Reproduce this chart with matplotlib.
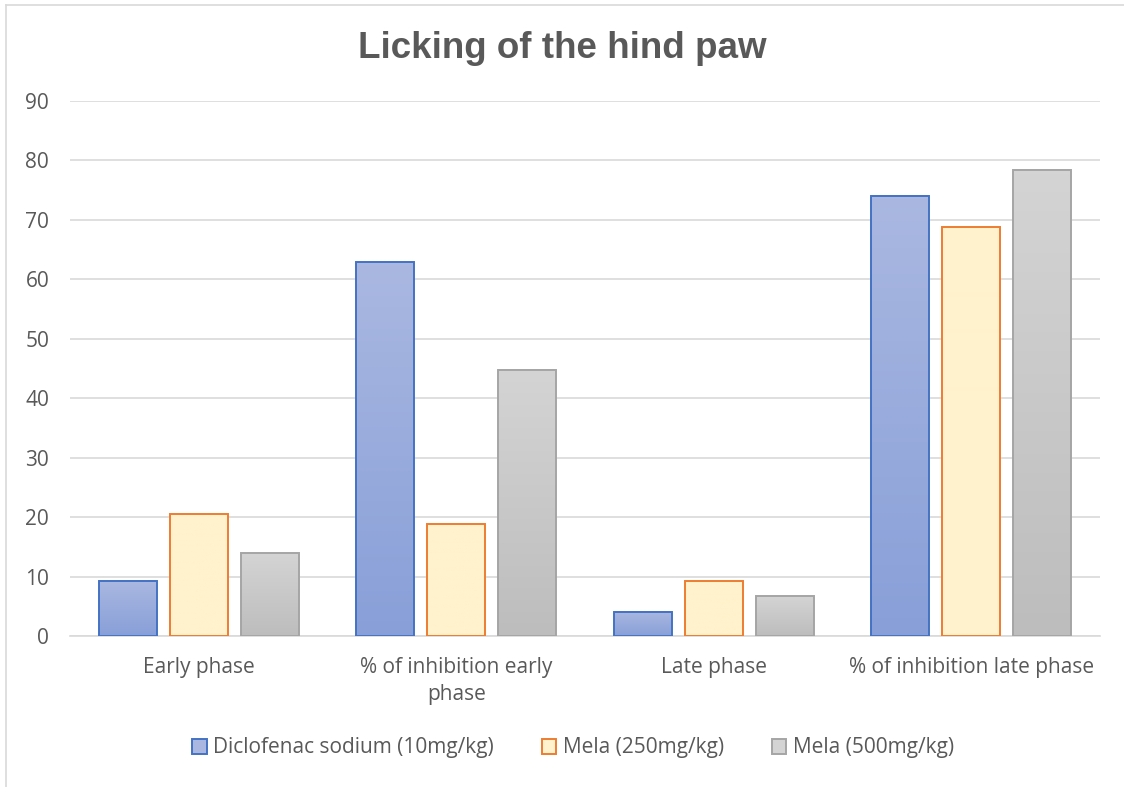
import matplotlib
matplotlib.use('Agg')
import matplotlib.pyplot as plt
from matplotlib.patches import Patch
from matplotlib.lines import Line2D
import numpy as np

categories = ['Early phase', '% of inhibition early\nphase', 'Late phase', '% of inhibition late phase']
series_names = ['Diclofenac sodium (10mg/kg)', 'Mela (250mg/kg)', 'Mela (500mg/kg)']
diclofenac = [9.3, 62.9, 4.1, 74.1]
mela_250 = [20.5, 18.8, 9.3, 68.8]
mela_500 = [13.9, 44.8, 6.7, 78.4]

# gradient top, gradient bottom, edge
styles = [
    ('#aab8e1', '#889fd8', '#4472c4'),
    ('#fff2cc', '#fff2cc', '#ed7d31'),
    ('#d4d4d4', '#bdbdbd', '#a5a5a5'),
]

plt.rcParams['font.family'] = ['Open Sans', 'DejaVu Sans']
text_color = '#595959'

fig = plt.figure(figsize=(11.24, 7.87), dpi=100)
ax = fig.add_axes([70 / 1124, 1 - 636 / 787, 1030 / 1124, 535 / 787])

x = np.arange(len(categories))
width = 0.225
offset = 0.275

for i, (vals, (top, bottom, edge)) in enumerate(zip([diclofenac, mela_250, mela_500], styles)):
    c_top = np.array(matplotlib.colors.to_rgb(top))
    c_bot = np.array(matplotlib.colors.to_rgb(bottom))
    grad = np.linspace(0, 1, 100)[:, None, None]
    img = c_top * (1 - grad) + c_bot * grad
    for xi, v in zip(x + (i - 1) * offset, vals):
        x0, x1 = xi - width / 2, xi + width / 2
        ax.imshow(img, extent=[x0, x1, 0, v], origin='upper', aspect='auto', zorder=2)
        ax.add_patch(plt.Rectangle((x0, 0), width, v, fill=False, edgecolor=edge,
                                   linewidth=1.4, zorder=3))

ax.set_xlim(-0.5, 3.5)
ax.set_ylim(0, 90)
ax.set_yticks(np.arange(0, 91, 10))
ax.set_xticks(x)
ax.set_xticklabels(categories, linespacing=1.4)
ax.grid(axis='y', color='#d9d9d9', linewidth=1.2, zorder=0)
ax.set_axisbelow(True)
for s in ['top', 'right', 'left']:
    ax.spines[s].set_visible(False)
ax.spines['bottom'].set_color('#d9d9d9')
ax.spines['bottom'].set_linewidth(1.2)
ax.tick_params(axis='both', length=0, colors=text_color, labelsize=15)
ax.tick_params(axis='y', pad=15)
ax.tick_params(axis='x', pad=15)

fig.text(0.5, 1 - 49 / 787, 'Licking of the hind paw', ha='center', va='center',
         fontsize=26.5, fontweight='bold', color=text_color, family='Liberation Sans')

handles = [Patch(facecolor=top, edgecolor=edge, linewidth=1.4) for top, _, edge in styles]
fig.legend(handles, series_names, loc='center', bbox_to_anchor=(573 / 1124, 1 - 748 / 787),
           ncol=3, frameon=False, fontsize=15, labelcolor=text_color,
           handlelength=0.7, handleheight=0.7, handletextpad=0.3, columnspacing=2.3)

# chart border (only top and left visible)
fig.add_artist(Line2D([6 / 1124, 1], [1 - 5 / 787, 1 - 5 / 787], color='#d9d9d9', linewidth=1.2))
fig.add_artist(Line2D([6 / 1124, 6 / 1124], [0, 1 - 5 / 787], color='#d9d9d9', linewidth=1.2))

fig.savefig('out.png', dpi=100)
